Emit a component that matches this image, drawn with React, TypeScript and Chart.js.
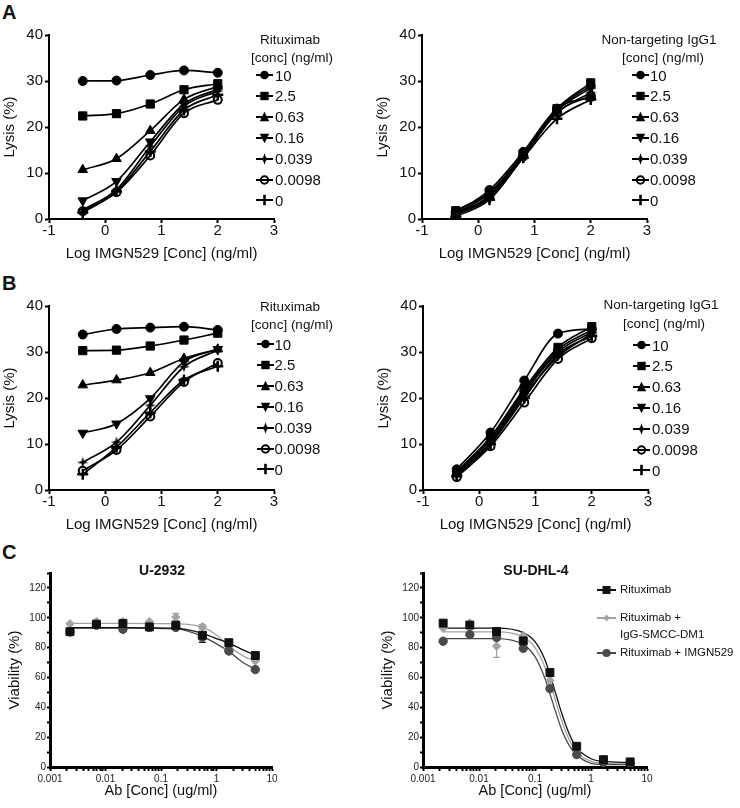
import React, { useEffect, useRef } from 'react';
import { Chart, registerables } from 'chart.js';

Chart.register(...registerables);

const FONT = "'Liberation Sans', Arial, Helvetica, sans-serif";
const NARROW = "'Liberation Sans Narrow', 'Liberation Sans', Arial, sans-serif";
Chart.defaults.font.family = FONT;
Chart.defaults.color = '#111';

// ---------------- Panels A & B ----------------
const logConc = [-0.4, 0.2, 0.8, 1.4, 2.0];
const concLabels = ['10', '2.5', '0.63', '0.16', '0.039', '0.0098', '0'];
const abXTicks = [-1, 0, 1, 2, 3];
const abYTicks = [0, 10, 20, 30, 40];

const lysisA_Rituximab = [
  [30.0, 30.1, 31.3, 32.3, 31.8],
  [22.4, 22.9, 25.0, 28.1, 29.4],
  [10.7, 13.1, 19.2, 26.0, 28.8],
  [4.0, 8.2, 16.8, 25.0, 28.2],
  [2.0, 6.4, 15.8, 24.5, 27.8],
  [1.7, 5.8, 13.8, 23.0, 25.9],
  [1.4, 6.0, 14.7, 23.7, 27.0],
];
const lysisA_IgG1 = [
  [1.5, 6.3, 14.6, 24.0, 26.5],
  [1.8, 5.8, 14.2, 24.0, 29.6],
  [1.2, 5.0, 14.0, 23.8, 29.0],
  [1.0, 4.5, 13.5, 23.5, 28.5],
  [0.8, 4.8, 13.8, 23.0, 27.5],
  [1.3, 5.5, 13.6, 23.2, 26.8],
  [0.5, 4.2, 13.3, 21.8, 26.0],
];
const lysisB_Rituximab = [
  [33.8, 35.0, 35.3, 35.5, 34.8],
  [30.3, 30.4, 31.3, 32.6, 34.1],
  [22.8, 23.9, 25.5, 28.6, 30.6],
  [12.4, 14.4, 19.9, 27.9, 30.6],
  [6.0, 10.4, 18.4, 26.8, 30.4],
  [4.2, 8.7, 16.0, 23.5, 27.6],
  [3.4, 9.3, 16.8, 23.9, 26.9],
];
const lysisB_IgG1 = [
  [4.5, 12.5, 23.8, 34.0, 35.0],
  [4.0, 11.5, 22.0, 31.0, 35.5],
  [3.8, 11.0, 21.5, 30.5, 34.8],
  [3.5, 10.5, 21.0, 30.0, 34.3],
  [3.3, 10.0, 20.5, 29.0, 34.0],
  [2.8, 9.5, 19.0, 28.5, 33.0],
  [3.0, 10.0, 20.0, 29.5, 33.5],
];

// ---------------- Panel C ----------------
const abConc = [0.00229, 0.00686, 0.0206, 0.0617, 0.185, 0.556, 1.67, 5];
const cXMajor = [0.001, 0.01, 0.1, 1, 10];
const cXLabels = ['0.001', '0.01', '0.1', '1', '10'];
const cYTickValues = [0, 10, 20, 30, 40, 50, 60, 70, 80, 90, 100, 110, 120, 130];
const cYLabels = [0, 20, 40, 60, 80, 100, 120];
const cSeriesNames = ['Rituximab', 'Rituximab + IgG-SMCC-DM1', 'Rituximab + IMGN529'];

// U-2932
const u2932_Rituximab = [90.7, 95.7, 96.2, 93.9, 95.0, 88.3, 83.3, 74.7];
const u2932_IgG_DM1 = [96.0, 97.5, 97.5, 97.5, 100.5, 94.0, 79.5, 71.0];
const u2932_IMGN529 = [90.5, 95.0, 92.3, 93.5, 93.5, 87.0, 77.7, 65.3];
const u2932_err_Rituximab = [0, 0, 0, 0, 2.5, 4.8, 0, 0];
const u2932_err_IgG_DM1 = [0, 0, 0, 0, 2.5, 1.5, 0, 0];
const u2932_err_IMGN529 = [0, 0, 1.5, 0, 0, 0, 0, 0];
const u2932_fitConc = [0.00229, 0.0206, 0.185, 0.556, 1.0, 1.67, 3.0, 5];
const u2932_fit_Rituximab = [93.4, 93.4, 93.0, 89.5, 86.0, 83.0, 78.5, 75.0];
const u2932_fit_IgG_DM1 = [96.3, 96.3, 96.0, 93.8, 88.5, 81.0, 74.5, 71.0];
const u2932_fit_IMGN529 = [93.0, 93.0, 92.5, 87.5, 82.5, 77.5, 70.0, 65.5];

// SU-DHL-4
const sudhl4_Rituximab = [96.4, 95.1, 90.8, 84.5, 63.3, 13.9, 4.9, 3.4];
const sudhl4_IgG_DM1 = [93.0, 96.5, 81.0, 88.0, 58.0, 10.5, 3.0, 2.0];
const sudhl4_IMGN529 = [84.3, 88.8, 86.8, 79.5, 52.5, 8.3, 3.0, 2.5];
const sudhl4_err_Rituximab = [0, 0, 0, 0, 0, 0, 0, 0];
const sudhl4_err_IgG_DM1 = [0, 0, 7.5, 0, 0, 0, 0, 0];
const sudhl4_err_IMGN529 = [0, 0, 0, 0, 0, 0, 0, 0];
const sudhl4_fitConc = [0.00229, 0.0206, 0.0617, 0.1, 0.15, 0.185, 0.3, 0.4, 0.556, 1.0, 1.67, 5];
const sudhl4_fit_Rituximab = [93, 93, 90, 84, 72, 62, 36, 23, 13, 5.5, 3.7, 3.0];
const sudhl4_fit_IgG_DM1 = [90.5, 90.5, 87, 80, 67, 57, 31, 19, 10, 3.8, 2.5, 2.0];
const sudhl4_fit_IMGN529 = [86, 86, 82, 74, 59.5, 49, 25, 15, 8, 2.5, 1.7, 1.5];

// ---------------- styles ----------------
let starCanvas: HTMLCanvasElement | null = null;
function getStar() {
  if (starCanvas) return starCanvas;
  const c = document.createElement('canvas');
  c.width = 12; c.height = 12;
  const g = c.getContext('2d')!;
  g.fillStyle = '#000';
  g.beginPath();
  const cx = 6, cy = 6, ro = 5.8, ri = 1.9;
  for (let k = 0; k < 8; k++) {
    const a = (Math.PI / 4) * k - Math.PI / 2;
    const r = k % 2 === 0 ? ro : ri;
    const px = cx + r * Math.cos(a), py = cy + r * Math.sin(a);
    if (k === 0) g.moveTo(px, py); else g.lineTo(px, py);
  }
  g.closePath();
  g.fill();
  starCanvas = c;
  return c;
}

const markerKinds = ['circle', 'rect', 'triangle', 'triangleDown', 'star', 'openCircle', 'cross'];

function abPointStyle(kind: string) {
  switch (kind) {
    case 'circle': return { pointStyle: 'circle', pointRadius: 4.5, pointBackgroundColor: '#000', pointBorderWidth: 1 };
    case 'rect': return { pointStyle: 'rect', pointRadius: 5.8, pointBackgroundColor: '#000', pointBorderWidth: 1 };
    case 'triangle': return { pointStyle: 'triangle', pointRadius: 5.5, pointBackgroundColor: '#000', pointBorderWidth: 1 };
    case 'triangleDown': return { pointStyle: 'triangle', pointRotation: 180, pointRadius: 5.5, pointBackgroundColor: '#000', pointBorderWidth: 1 };
    case 'star': return { pointStyle: getStar(), pointRadius: 5, pointBackgroundColor: '#000', pointBorderWidth: 0 };
    case 'openCircle': return { pointStyle: 'circle', pointRadius: 4, pointBackgroundColor: 'rgba(255,255,255,0)', pointBorderWidth: 2 };
    default: return { pointStyle: 'cross', pointRadius: 5.5, pointBackgroundColor: '#000', pointBorderWidth: 2.5 };
  }
}

const errorBarPlugin = {
  id: 'errorBars',
  beforeDatasetsDraw(chart: any) {
    const ctx = chart.ctx;
    chart.data.datasets.forEach((ds: any, i: number) => {
      const errs = ds.errors;
      if (!errs) return;
      const meta = chart.getDatasetMeta(i);
      const yScale = chart.scales[meta.yAxisID];
      ctx.save();
      ctx.strokeStyle = ds.pointBorderColor || '#000';
      ctx.lineWidth = 1.3;
      meta.data.forEach((pt: any, j: number) => {
        const e = errs[j];
        if (!e) return;
        const v = ds.data[j].y;
        const y1 = yScale.getPixelForValue(v - e);
        const y2 = yScale.getPixelForValue(v + e);
        ctx.beginPath();
        ctx.moveTo(pt.x, y1); ctx.lineTo(pt.x, y2);
        ctx.moveTo(pt.x - 3.5, y1); ctx.lineTo(pt.x + 3.5, y1);
        ctx.moveTo(pt.x - 3.5, y2); ctx.lineTo(pt.x + 3.5, y2);
        ctx.stroke();
      });
      ctx.restore();
    });
  },
};

function abConfig(series: number[][]) {
  return {
    type: 'line',
    data: {
      datasets: series.map((vals, i) => ({
        label: concLabels[i],
        data: logConc.map((x, j) => ({ x, y: vals[j] })),
        borderColor: '#000',
        pointBorderColor: '#000',
        borderWidth: 1.7,
        cubicInterpolationMode: 'monotone',
        fill: false,
        ...abPointStyle(markerKinds[i]),
      })),
    },
    options: {
      responsive: false,
      animation: false,
      events: [],
      layout: { padding: { top: 35, right: 20, bottom: 0, left: 0 } },
      plugins: { legend: { display: false }, tooltip: { enabled: false } },
      scales: {
        x: {
          type: 'linear',
          min: -1,
          max: 3,
          afterBuildTicks: (s: any) => { s.ticks = abXTicks.map((v) => ({ value: v })); },
          afterFit: (s: any) => { s.height = 44; },
          border: { display: true, color: '#000', width: 2 },
          grid: { drawOnChartArea: false, drawTicks: true, tickLength: 4, tickWidth: 2, tickColor: '#000' },
          ticks: { color: '#111', font: { size: 15, lineHeight: 1 }, padding: 0, maxRotation: 0, autoSkip: false },
          title: { display: true, text: 'Log IMGN529 [Conc] (ng/ml)', color: '#111', font: { size: 15 }, padding: { top: 0, bottom: 0 } },
        },
        y: {
          type: 'linear',
          min: 0,
          max: 40,
          afterBuildTicks: (s: any) => { s.ticks = abYTicks.map((v) => ({ value: v })); },
          afterFit: (s: any) => { s.width = 49; },
          border: { display: true, color: '#000', width: 2 },
          grid: { drawOnChartArea: false, drawTicks: true, tickLength: 4, tickWidth: 2, tickColor: '#000' },
          ticks: { color: '#111', font: { size: 15, lineHeight: 1 }, padding: 2, autoSkip: false },
          title: { display: true, text: 'Lysis (%)', color: '#111', font: { size: 15 }, padding: { top: 1, bottom: 0 } },
        },
      },
    },
  };
}

const cStyles = [
  { color: '#111111', pointStyle: 'rect', r: 5.6 },
  { color: '#a3a3a3', pointStyle: 'rectRot', r: 4.2 },
  { color: '#4a4a4a', pointStyle: 'circle', r: 4.2 },
];

function cConfig(points: number[][], errs: number[][], fitConc: number[], fits: number[][]) {
  const pointSets = [0, 2, 1].map((i) => ({
    label: cSeriesNames[i],
    data: abConc.map((x, j) => ({ x, y: points[i][j] })),
    showLine: false,
    pointStyle: cStyles[i].pointStyle,
    pointRadius: cStyles[i].r,
    pointBackgroundColor: cStyles[i].color,
    pointBorderColor: cStyles[i].color,
    pointBorderWidth: 1,
    errors: errs[i],
  }));
  const lineSets = [0, 2, 1].map((i) => ({
    label: cSeriesNames[i] + ' fit',
    data: fitConc.map((x, j) => ({ x, y: fits[i][j] })),
    borderColor: cStyles[i].color,
    borderWidth: 1.3,
    pointRadius: 0,
    cubicInterpolationMode: 'monotone',
    fill: false,
  }));
  const xTickValues: number[] = [];
  for (let d = 0; d < cXMajor.length - 1; d++) {
    for (let k = 1; k <= 9; k++) xTickValues.push(cXMajor[d] * k);
  }
  xTickValues.push(cXMajor[cXMajor.length - 1]);
  return {
    type: 'line',
    data: { datasets: [...pointSets, ...lineSets] },
    plugins: [errorBarPlugin],
    options: {
      responsive: false,
      animation: false,
      events: [],
      layout: { padding: { top: 13, right: 18, bottom: 0, left: 0 } },
      plugins: { legend: { display: false }, tooltip: { enabled: false } },
      scales: {
        x: {
          type: 'logarithmic',
          min: 0.001,
          max: 10,
          afterBuildTicks: (s: any) => {
            s.ticks = xTickValues.map((v) => ({ value: v }));
          },
          afterFit: (s: any) => { s.height = 33; },
          border: { display: true, color: '#000', width: 3 },
          grid: { drawOnChartArea: false, drawTicks: true, tickLength: 4, tickWidth: 2, tickColor: '#000' },
          ticks: {
            color: '#222',
            font: { size: 10, lineHeight: 1, family: NARROW },
            padding: 3,
            maxRotation: 0,
            autoSkip: false,
            callback: (v: number) => {
              const idx = cXMajor.findIndex((m) => Math.abs(m - v) / m < 1e-6);
              return idx >= 0 ? cXLabels[idx] : '';
            },
          },
          title: { display: true, text: 'Ab [Conc] (ug/ml)', color: '#111', font: { size: 14.5 }, padding: { top: 0, bottom: 0 } },
        },
        y: {
          type: 'linear',
          min: 0,
          max: 130,
          afterBuildTicks: (s: any) => { s.ticks = cYTickValues.map((v) => ({ value: v })); },
          afterFit: (s: any) => { s.width = 50; },
          border: { display: true, color: '#000', width: 3 },
          grid: { drawOnChartArea: false, drawTicks: true, tickLength: 3, tickWidth: 2, tickColor: '#000' },
          ticks: {
            color: '#222',
            font: { size: 10, lineHeight: 1, family: NARROW },
            padding: 1,
            autoSkip: false,
            callback: (v: number) => (cYLabels.includes(v) ? String(v) : ''),
          },
          title: { display: true, text: 'Viability (%)', color: '#111', font: { size: 15 }, padding: { top: 6, bottom: 0 } },
        },
      },
    },
  };
}

// ---------------- components ----------------
type Pos = { left: number; top: number; width: number; height: number };

function ChartCanvas({ pos, make }: { pos: Pos; make: () => any }) {
  const ref = useRef<HTMLCanvasElement>(null);
  useEffect(() => {
    const chart = new Chart(ref.current as HTMLCanvasElement, make());
    return () => chart.destroy();
  }, []);
  return (
    <canvas
      ref={ref}
      width={pos.width}
      height={pos.height}
      style={{ position: 'absolute', left: pos.left, top: pos.top, width: pos.width, height: pos.height }}
    />
  );
}

function Marker({ kind }: { kind: string }) {
  let shape: any = null;
  switch (kind) {
    case 'circle': shape = <circle cx={8.5} cy={6} r={4.3} fill="#000" />; break;
    case 'rect': shape = <rect x={4.3} y={1.8} width={8.4} height={8.4} fill="#000" />; break;
    case 'triangle': shape = <polygon points="8.5,0.8 13.2,10.2 3.8,10.2" fill="#000" />; break;
    case 'triangleDown': shape = <polygon points="3.8,1.8 13.2,1.8 8.5,11.2" fill="#000" />; break;
    case 'star': shape = <polygon points="8.5,0.3 9.9,4.6 14.2,6 9.9,7.4 8.5,11.7 7.1,7.4 2.8,6 7.1,4.6" fill="#000" />; break;
    case 'openCircle': shape = <circle cx={8.5} cy={6} r={3.7} fill="none" stroke="#000" strokeWidth={1.9} />; break;
    default: shape = <line x1={8.5} y1={0.8} x2={8.5} y2={11.2} stroke="#000" strokeWidth={2.6} />;
  }
  return (
    <svg width={17} height={12} style={{ display: 'block' }}>
      <line x1={0} y1={6} x2={17} y2={6} stroke="#000" strokeWidth={2} />
      {shape}
    </svg>
  );
}

function Txt({ x, y, size, children, align = 'left', bold = false, w = 200 }: any) {
  const left = align === 'center' ? x - w / 2 : x;
  return (
    <div
      style={{
        position: 'absolute',
        left,
        top: y - size / 2,
        width: w,
        height: size,
        lineHeight: `${size}px`,
        fontSize: size,
        fontWeight: bold ? 'bold' : 'normal',
        textAlign: align,
        whiteSpace: 'nowrap',
        color: '#111',
      }}
    >
      {children}
    </div>
  );
}

function LegendAB({ title, cx1, cx2, y1, y2, entryY, markerX, textX }: any) {
  return (
    <>
      <Txt x={cx1} y={y1} size={13.5} align="center">{title}</Txt>
      <Txt x={cx2} y={y2} size={13.5} align="center">[conc] (ng/ml)</Txt>
      {concLabels.map((lab, i) => {
        const cy = entryY + 20.9 * i;
        return (
          <React.Fragment key={lab}>
            <div style={{ position: 'absolute', left: markerX, top: cy - 6 }}>
              <Marker kind={markerKinds[i]} />
            </div>
            <Txt x={textX} y={cy} size={15}>{lab}</Txt>
          </React.Fragment>
        );
      })}
    </>
  );
}

function CMarker({ i }: { i: number }) {
  const c = cStyles[i].color;
  let shape: any;
  if (i === 0) shape = <rect x={5.5} y={2} width={8} height={8} fill={c} />;
  else if (i === 1) shape = <polygon points="9.5,2.6 12.9,6 9.5,9.4 6.1,6" fill={c} />;
  else shape = <circle cx={9.5} cy={6} r={4.1} fill={c} />;
  return (
    <svg width={19} height={12} style={{ display: 'block' }}>
      <line x1={0} y1={6} x2={19} y2={6} stroke={c} strokeWidth={2} />
      {shape}
    </svg>
  );
}

export default function App() {
  return (
    <div
      style={{
        position: 'absolute',
        left: 0,
        top: 0,
        width: 740,
        height: 808,
        background: '#fff',
        fontFamily: FONT,
        overflow: 'hidden',
      }}
    >
      {/* Panel letters */}
      <Txt x={2} y={12} size={20} bold>A</Txt>
      <Txt x={2} y={283} size={20} bold>B</Txt>
      <Txt x={2} y={552} size={20} bold>C</Txt>

      {/* Panel A */}
      <ChartCanvas pos={{ left: 0, top: 0, width: 294, height: 263 }} make={() => abConfig(lysisA_Rituximab)} />
      <ChartCanvas pos={{ left: 373, top: 0, width: 294, height: 263 }} make={() => abConfig(lysisA_IgG1)} />
      <LegendAB title="Rituximab" cx1={290} cx2={292} y1={39.3} y2={57.3} entryY={75} markerX={256} textX={275} />
      <LegendAB title="Non-targeting IgG1" cx1={659} cx2={663} y1={39.3} y2={57.3} entryY={75} markerX={632} textX={650} />

      {/* Panel B */}
      <ChartCanvas pos={{ left: 0, top: 271, width: 294, height: 263 }} make={() => abConfig(lysisB_Rituximab)} />
      <ChartCanvas pos={{ left: 374, top: 271, width: 294, height: 263 }} make={() => abConfig(lysisB_IgG1)} />
      <LegendAB title="Rituximab" cx1={290} cx2={292} y1={306.7} y2={325} entryY={344} markerX={257} textX={274.5} />
      <LegendAB title="Non-targeting IgG1" cx1={661} cx2={664} y1={305} y2={323.5} entryY={345} markerX={633} textX={652} />

      {/* Panel C */}
      <ChartCanvas
        pos={{ left: 0, top: 560, width: 290, height: 240 }}
        make={() =>
          cConfig(
            [u2932_Rituximab, u2932_IgG_DM1, u2932_IMGN529],
            [u2932_err_Rituximab, u2932_err_IgG_DM1, u2932_err_IMGN529],
            u2932_fitConc,
            [u2932_fit_Rituximab, u2932_fit_IgG_DM1, u2932_fit_IMGN529]
          )
        }
      />
      <ChartCanvas
        pos={{ left: 373, top: 560, width: 292, height: 240 }}
        make={() =>
          cConfig(
            [sudhl4_Rituximab, sudhl4_IgG_DM1, sudhl4_IMGN529],
            [sudhl4_err_Rituximab, sudhl4_err_IgG_DM1, sudhl4_err_IMGN529],
            sudhl4_fitConc,
            [sudhl4_fit_Rituximab, sudhl4_fit_IgG_DM1, sudhl4_fit_IMGN529]
          )
        }
      />
      <Txt x={162} y={570} size={14} align="center" bold>U-2932</Txt>
      <Txt x={536} y={570} size={14} align="center" bold>SU-DHL-4</Txt>

      {/* Panel C legend */}
      <div style={{ position: 'absolute', left: 597, top: 590 - 6 }}><CMarker i={0} /></div>
      <Txt x={620} y={590} size={11.5}>Rituximab</Txt>
      <div style={{ position: 'absolute', left: 597, top: 618 - 6 }}><CMarker i={1} /></div>
      <Txt x={620} y={618} size={11.5}>Rituximab +</Txt>
      <Txt x={620} y={635} size={11.5}>IgG-SMCC-DM1</Txt>
      <div style={{ position: 'absolute', left: 597, top: 653 - 6 }}><CMarker i={2} /></div>
      <Txt x={620} y={653} size={11.5}>Rituximab + IMGN529</Txt>
    </div>
  );
}
